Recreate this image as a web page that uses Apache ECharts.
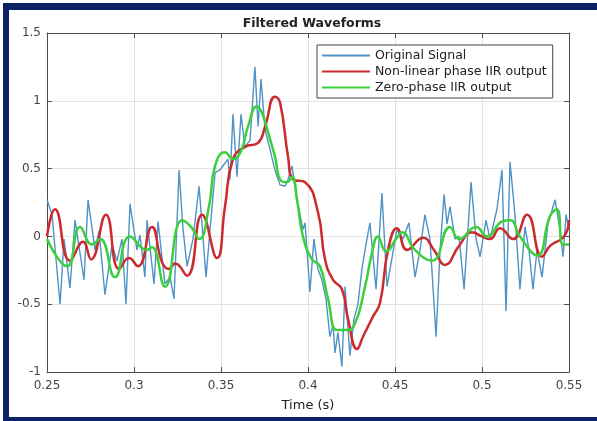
<!DOCTYPE html>
<html lang="en">
<head>
    <meta charset="UTF-8">
    <title>Filtered Waveforms</title>
    <script src="https://cdn.jsdelivr.net/npm/echarts@6/dist/echarts.min.js"></script>
</head>
<body style="margin:0; background:#fff;">
<div id="main" style="width: 597px; height: 421px;"></div>
<script type="text/javascript">

    // x ticks and y ticks
    const xTicks = [0.25, 0.3, 0.35, 0.4, 0.45, 0.5, 0.55];
    const yTicks = [-1, -0.5, 0, 0.5, 1, 1.5];

    // original signal, read at its turning points
    const sigT = [0.2500, 0.2529, 0.2575, 0.2598, 0.2632, 0.2661, 0.2713, 0.2736, 0.2776, 0.2799,
        0.2833, 0.2874, 0.2902, 0.2931, 0.2954, 0.2977, 0.3017, 0.3034, 0.3063, 0.3075,
        0.3115, 0.3138, 0.3178, 0.3207, 0.3230, 0.3259, 0.3282, 0.3305, 0.3339, 0.3374,
        0.3414, 0.3437, 0.3466, 0.3494, 0.3517, 0.3540, 0.3552, 0.3569, 0.3592, 0.3615,
        0.3638, 0.3667, 0.3695, 0.3713, 0.3730, 0.3753, 0.3782, 0.3810, 0.3839, 0.3868,
        0.3885, 0.3908, 0.3931, 0.3954, 0.3971, 0.3983, 0.4011, 0.4034, 0.4057, 0.4080,
        0.4103, 0.4126, 0.4144, 0.4155, 0.4172, 0.4195, 0.4213, 0.4241, 0.4264, 0.4287,
        0.4310, 0.4333, 0.4356, 0.4391, 0.4425, 0.4454, 0.4511, 0.4546, 0.4580, 0.4615,
        0.4644, 0.4672, 0.4701, 0.4736, 0.4759, 0.4782, 0.4799, 0.4816, 0.4845, 0.4868,
        0.4897, 0.4937, 0.4966, 0.4989, 0.5023, 0.5046, 0.5086, 0.5115, 0.5138, 0.5161,
        0.5190, 0.5218, 0.5247, 0.5270, 0.5293, 0.5316, 0.5345, 0.5379, 0.5420, 0.5448,
        0.5466, 0.5483, 0.5500];
    const sigV = [0.27, 0.16, -0.50, -0.02, -0.38, 0.12, -0.32, 0.27, -0.10, 0.04,
        -0.43, -0.06, -0.18, -0.02, -0.50, 0.24, -0.10, 0.01, -0.30, 0.12,
        -0.35, 0.11, -0.35, -0.30, -0.46, 0.49, 0.05, -0.22, -0.02, 0.37,
        -0.30, 0.05, 0.47, 0.49, 0.53, 0.57, 0.42, 0.90, 0.44, 0.90,
        0.66, 0.71, 1.25, 0.81, 1.16, 0.79, 0.64, 0.49, 0.38, 0.37,
        0.42, 0.52, 0.31, 0.16, 0.05, 0.10, -0.41, -0.02, -0.24, -0.32,
        -0.46, -0.74, -0.65, -0.86, -0.71, -0.96, -0.37, -0.88, -0.61, -0.50,
        -0.24, -0.06, 0.10, -0.39, 0.32, -0.37, 0.05, -0.02, 0.10, -0.30,
        -0.10, 0.16, -0.02, -0.74, -0.10, 0.31, 0.09, 0.22, -0.02, 0.00,
        -0.39, 0.40, -0.02, -0.15, 0.12, -0.02, 0.20, 0.49, -0.55, 0.55,
        0.15, -0.39, 0.07, -0.10, -0.39, -0.10, -0.30, 0.09, 0.27, 0.05,
        -0.15, 0.16, 0.05];

    // non-linear phase IIR output
    const iirT = [0.2500, 0.2546, 0.2632, 0.2707, 0.2753, 0.2839, 0.2914, 0.2971, 0.3023, 0.3103,
        0.3161, 0.3201, 0.3236, 0.3305, 0.3391, 0.3477, 0.3523, 0.3569, 0.3638, 0.3713,
        0.3753, 0.3810, 0.3839, 0.3885, 0.3914, 0.3983, 0.4057, 0.4098, 0.4144, 0.4195,
        0.4230, 0.4282, 0.4316, 0.4374, 0.4414, 0.4460, 0.4511, 0.4570, 0.4661, 0.4724,
        0.4787, 0.4868, 0.4943, 0.5000, 0.5046, 0.5103, 0.5178, 0.5259, 0.5345, 0.5391,
        0.5471, 0.5500];
    const iirV = [0.00, 0.20, -0.18, -0.04, -0.17, 0.16, -0.24, -0.16, -0.22, 0.07,
        -0.19, -0.24, -0.20, -0.29, 0.16, -0.16, 0.22, 0.57, 0.66, 0.69,
        0.81, 1.03, 0.99, 0.59, 0.42, 0.40, 0.18, -0.17, -0.32, -0.39,
        -0.61, -0.83, -0.74, -0.59, -0.49, -0.10, 0.06, -0.10, -0.01, -0.10,
        -0.21, -0.07, 0.03, 0.00, -0.02, 0.06, -0.02, 0.16, -0.15, -0.07,
        0.00, 0.12];

    // zero-phase IIR output
    const zeroT = [0.2500, 0.2615, 0.2690, 0.2759, 0.2805, 0.2891, 0.2977, 0.3075, 0.3103, 0.3178,
        0.3276, 0.3328, 0.3374, 0.3431, 0.3466, 0.3523, 0.3569, 0.3615, 0.3655, 0.3707,
        0.3736, 0.3770, 0.3810, 0.3845, 0.3879, 0.3908, 0.3937, 0.3971, 0.4023, 0.4069,
        0.4115, 0.4167, 0.4213, 0.4264, 0.4328, 0.4368, 0.4402, 0.4448, 0.4511, 0.4540,
        0.4615, 0.4713, 0.4816, 0.4868, 0.4966, 0.5029, 0.5115, 0.5161, 0.5218, 0.5316,
        0.5391, 0.5431, 0.5466, 0.5500];
    const zeroV = [-0.02, -0.22, 0.07, -0.06, -0.02, -0.30, 0.00, -0.10, -0.08, -0.37,
        0.12, 0.07, -0.02, 0.22, 0.52, 0.62, 0.57, 0.63, 0.81, 0.96,
        0.91, 0.77, 0.59, 0.41, 0.40, 0.44, 0.27, 0.00, -0.17, -0.22,
        -0.46, -0.69, -0.69, -0.66, -0.37, -0.12, 0.00, -0.11, -0.01, 0.03,
        -0.10, -0.18, 0.07, -0.02, 0.07, 0.00, 0.11, 0.12, 0.00, -0.14,
        0.15, 0.20, -0.06, -0.06];

    const names = ['Original Signal', 'Non-linear phase IIR output', 'Zero-phase IIR output'];

    function pairs(t, v) {
        return t.map(function (x, i) { return [x, v[i]]; });
    }

    const myChart = echarts.init(document.getElementById('main'));
    const font = 'DejaVu Sans, sans-serif';
    const boxAxis = {
        onZero: false,
        lineStyle: {color: '#4d4d4d', width: 1}
    };
    const tick = {inside: true, length: 5, lineStyle: {color: '#4d4d4d'}};
    const option = {
        backgroundColor: '#fff',
        animation: false,
        textStyle: {fontFamily: font},
        title: {
            text: 'Filtered Waveforms',
            left: 307,
            top: 12,
            textAlign: 'center',
            textStyle: {fontSize: 12.5, fontWeight: 'bold', color: '#222', fontFamily: font}
        },
        graphic: [
            {type: 'rect', shape: {x: 3, y: 3, width: 594, height: 7}, style: {fill: '#0c2265'}},
            {type: 'rect', shape: {x: 3, y: 3, width: 6, height: 418}, style: {fill: '#0c2265'}},
            {type: 'rect', shape: {x: 3, y: 417, width: 594, height: 4}, style: {fill: '#0c2265'}}
        ],
        legend: {
            data: names,
            orient: 'vertical',
            left: 317,
            top: 45,
            icon: 'rect',
            itemGap: 3,
            itemWidth: 48,
            itemHeight: 2,
            padding: [4, 6, 4, 5],
            borderColor: '#444',
            borderWidth: 1,
            backgroundColor: '#fff',
            textStyle: {fontSize: 12.5, color: '#222', fontFamily: font}
        },
        grid: {left: 47, right: 28, top: 33, bottom: 49},
        xAxis: [{
            type: 'value',
            min: xTicks[0],
            max: xTicks[xTicks.length - 1],
            interval: 0.05,
            name: 'Time (s)',
            nameLocation: 'middle',
            nameGap: 27,
            nameTextStyle: {fontSize: 13, color: '#222'},
            axisLine: boxAxis,
            axisTick: tick,
            axisLabel: {fontSize: 12, color: '#444', margin: 8},
            splitLine: {lineStyle: {color: '#e3e3e3'}}
        }, {
            type: 'value',
            position: 'top',
            min: xTicks[0],
            max: xTicks[xTicks.length - 1],
            interval: 0.05,
            axisLine: boxAxis,
            axisTick: tick,
            axisLabel: {show: false},
            splitLine: {show: false}
        }],
        yAxis: [{
            type: 'value',
            min: yTicks[0],
            max: yTicks[yTicks.length - 1],
            interval: 0.5,
            axisLine: boxAxis,
            axisTick: tick,
            axisLabel: {fontSize: 12, color: '#444', margin: 6},
            splitLine: {lineStyle: {color: '#e3e3e3'}}
        }, {
            type: 'value',
            position: 'right',
            min: yTicks[0],
            max: yTicks[yTicks.length - 1],
            interval: 0.5,
            axisLine: boxAxis,
            axisTick: tick,
            axisLabel: {show: false},
            splitLine: {show: false}
        }],
        series: [{
            name: names[0],
            type: 'line',
            symbol: 'none',
            data: pairs(sigT, sigV),
            lineStyle: {color: '#4f92c6', width: 1.4},
            itemStyle: {color: '#4f92c6'}
        }, {
            name: names[1],
            type: 'line',
            symbol: 'none',
            smooth: 0.5,
            data: pairs(iirT, iirV),
            lineStyle: {color: '#cc2a2f', width: 2.5},
            itemStyle: {color: '#cc2a2f'}
        }, {
            name: names[2],
            type: 'line',
            symbol: 'none',
            smooth: 0.5,
            data: pairs(zeroT, zeroV),
            lineStyle: {color: '#3ccf3c', width: 2.5},
            itemStyle: {color: '#3ccf3c'}
        }]
    };
    myChart.setOption(option);
</script>
</body>
</html>
